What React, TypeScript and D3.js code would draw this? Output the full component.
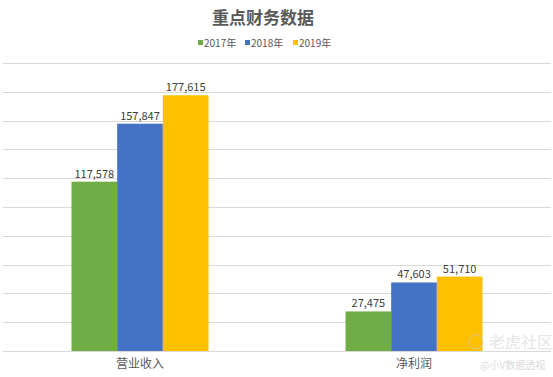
import React from "react";
import * as d3 from "d3";

const categories = ["营业收入", "净利润"];
const seriesNames = ["2017年", "2018年", "2019年"];
const values2017 = [117578, 27475];
const values2018 = [157847, 47603];
const values2019 = [177615, 51710];
const yTicks = [0, 20000, 40000, 60000, 80000, 100000, 120000, 140000, 160000, 180000, 200000];
const title = "重点财务数据";

const W = 553;
const H = 377;
const colors = ["#70ad47", "#4472c4", "#ffc000"];
const seriesValues = [values2017, values2018, values2019];

export default function App() {
  const left = 3;
  const right = 551;
  const top = 63;
  const bottom = 351;

  const x = d3.scaleBand<string>().domain(categories).range([left, right]).paddingInner(0.5).paddingOuter(0.25);
  const xs = d3.scaleBand<string>().domain(seriesNames).range([0, x.bandwidth()]).padding(0);
  const y = d3.scaleLinear().domain([0, 200000]).range([bottom, top]);
  const fmt = d3.format(",");
  const font = "'Noto Sans CJK SC', 'Noto Sans', sans-serif";

  const legendX = [198, 245, 293];

  return (
    <svg width={W} height={H} style={{ position: "absolute", left: 0, top: 0, background: "#fff" }} fontFamily={font}>
      <rect x={0} y={0} width={W} height={H} fill="#fff" />
      <text x={263} y={24} textAnchor="middle" fontSize={17} fontWeight="bold" fill="#595959">{title}</text>
      {seriesNames.map((s, i) => (
        <g key={s}>
          <rect x={legendX[i]} y={40} width={5} height={5} fill={colors[i]} />
          <text x={legendX[i] + 6} y={47} fontSize={10} fill="#595959">{s}</text>
        </g>
      ))}
      {yTicks.map((t) => (
        <line key={t} x1={left} x2={right} y1={Math.round(y(t)) + 0.5} y2={Math.round(y(t)) + 0.5} stroke="#d9d9d9" strokeWidth={1} />
      ))}
      {categories.map((c, ci) => (
        <g key={c}>
          {seriesNames.map((s, si) => {
            const v = seriesValues[si][ci];
            const bx = (x(c) as number) + (xs(s) as number);
            return (
              <g key={s}>
                <rect x={bx} y={y(v)} width={xs.bandwidth()} height={y(0) - y(v)} fill={colors[si]} />
                <text x={bx + xs.bandwidth() / 2} y={y(v) - 4} textAnchor="middle" fontSize={11} fill="#404040">{fmt(v)}</text>
              </g>
            );
          })}
          <text x={(x(c) as number) + x.bandwidth() / 2} y={368} textAnchor="middle" fontSize={12} fill="#595959">{c}</text>
        </g>
      ))}
      <g opacity={0.45}>
        <circle cx={476} cy={342} r={7} fill="none" stroke="#c8c8c8" strokeWidth={1.5} />
        <text x={489} y={348} fontSize={16} fill="#c8c8c8">老虎社区</text>
        <text x={480} y={369} fontSize={10} fill="#b0b0b0">@小V数据透视</text>
      </g>
    </svg>
  );
}
